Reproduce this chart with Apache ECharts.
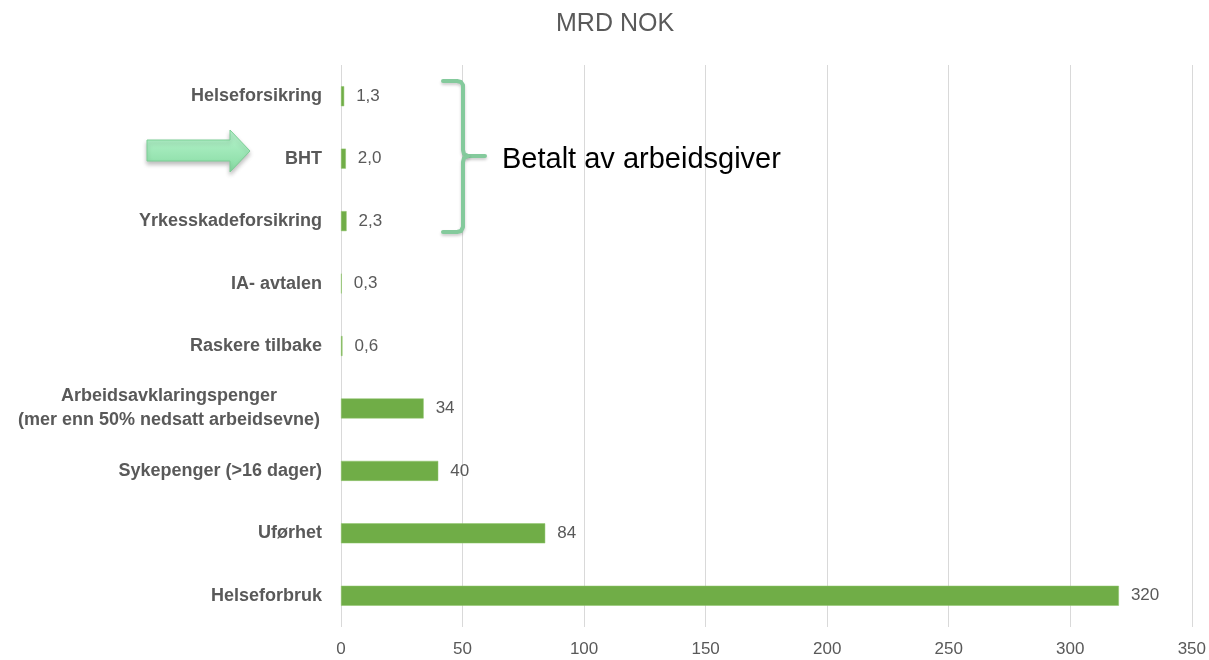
<!DOCTYPE html>
<html>
<head>
<meta charset="utf-8">
<script src="https://cdn.jsdelivr.net/npm/echarts@6/dist/echarts.min.js"></script>
<style>
html,body{margin:0;padding:0;background:#fff;}
#chart{width:1209px;height:660px;}
</style>
</head>
<body>
<div id="chart"></div>
<script>
// Categories listed bottom to top
const categories = [
  'Helseforbruk',
  'Uførhet',
  'Sykepenger (>16 dager)',
  'Arbeidsavklaringspenger\n(mer enn 50% nedsatt arbeidsevne)',
  'Raskere tilbake',
  'IA- avtalen',
  'Yrkesskadeforsikring',
  'BHT',
  'Helseforsikring'
];
const values = [320, 84, 40, 34, 0.6, 0.3, 2.3, 2.0, 1.3];
const xTicks = { min: 0, max: 350, interval: 50 };
const titleText = 'MRD NOK';
const noteText = 'Betalt av arbeidsgiver';

const fontFamily = '"Liberation Sans", Arial, sans-serif';
const grey = '#595959';

function fmtValue(v) {
  return v < 10 ? v.toFixed(1).replace('.', ',') : String(v);
}

const braceStyle = {
  fill: null,
  stroke: '#84ca9c',
  lineWidth: 4,
  lineCap: 'round',
  lineJoin: 'round',
  shadowBlur: 3,
  shadowOffsetY: 2,
  shadowColor: 'rgba(0,0,0,0.2)'
};

const chart = echarts.init(document.getElementById('chart'));
chart.setOption({
  animation: false,
  backgroundColor: '#ffffff',
  textStyle: { fontFamily: fontFamily },
  title: {
    text: titleText,
    left: 556,
    top: 12,
    padding: 0,
    textStyle: { fontFamily: fontFamily, fontSize: 25, fontWeight: 'normal', color: grey }
  },
  grid: { left: 341, right: 16, top: 65, bottom: 33, containLabel: false },
  xAxis: {
    type: 'value',
    min: xTicks.min,
    max: xTicks.max,
    interval: xTicks.interval,
    axisLine: { show: false },
    axisTick: { show: false },
    splitLine: { show: true, lineStyle: { color: '#d9d9d9', width: 1 } },
    axisLabel: { color: grey, fontSize: 17, margin: 14, fontFamily: fontFamily }
  },
  yAxis: {
    type: 'category',
    data: categories,
    axisLine: { show: false },
    axisTick: { show: false },
    splitLine: { show: false },
    axisLabel: {
      margin: 19,
      color: grey,
      fontSize: 18,
      fontWeight: 'bold',
      fontFamily: fontFamily,
      formatter: function (val) {
        if (val.indexOf('\n') >= 0) {
          return val.split('\n').map(function (s) { return '{c|' + s + '}'; }).join('\n');
        }
        return val;
      },
      rich: {
        c: { width: 306, align: 'center', color: grey, fontSize: 18, fontWeight: 'bold', fontFamily: fontFamily, lineHeight: 24 }
      }
    }
  },
  series: [{
    type: 'bar',
    data: values,
    barWidth: 20,
    itemStyle: { color: '#70ad47', borderColor: '#8fc46a', borderWidth: 0.5 },
    label: {
      show: true,
      position: 'right',
      distance: 12,
      color: grey,
      fontSize: 17,
      fontFamily: fontFamily,
      formatter: function (p) { return fmtValue(p.value); }
    }
  }],
  graphic: [
    {
      type: 'polygon',
      shape: { points: [[147,140],[230,140],[230,130],[250,151],[230,172],[230,161],[147,161]] },
      style: {
        fill: new echarts.graphic.LinearGradient(0, 0, 0, 1, [
          { offset: 0, color: '#b9f5cf' },
          { offset: 1, color: '#86dba2' }
        ]),
        stroke: '#7ccf96',
        lineWidth: 1,
        shadowBlur: 4,
        shadowOffsetY: 3,
        shadowColor: 'rgba(0,0,0,0.25)'
      },
      z: 10
    },
    {
      type: 'polyline',
      shape: { points: [[443,81],[457,81],[461,82],[463,85],[463,150],[464,154],[468,156],[485,156]] },
      style: braceStyle,
      z: 10
    },
    {
      type: 'polyline',
      shape: { points: [[468,156],[464,158],[463,162],[463,227],[461,231],[457,232],[443,232]] },
      style: braceStyle,
      z: 10
    },
    {
      type: 'text',
      left: 502,
      top: 145,
      style: {
        text: noteText,
        fontSize: 29,
        fontFamily: fontFamily,
        fill: '#000000'
      },
      z: 10
    }
  ]
});
</script>
</body>
</html>
